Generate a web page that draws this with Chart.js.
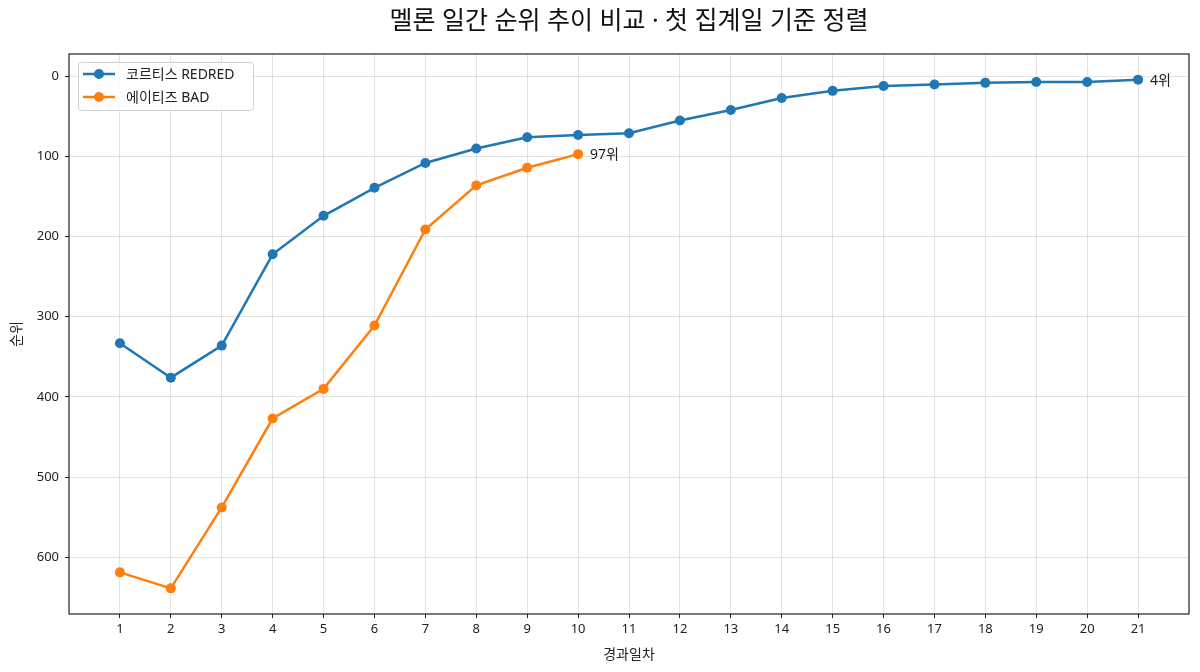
<!DOCTYPE html>
<html>
<head>
<meta charset="utf-8">
<script src="https://cdn.jsdelivr.net/npm/chart.js@4.4.1/dist/chart.umd.min.js"></script>
<style>
    html, body { margin: 0; padding: 0; background: #fff; }
    #wrap { width: 1200px; height: 672px; }
</style>
</head>
<body>
<div id="wrap"><canvas id="rankChart" width="1200" height="672"></canvas></div>
<script>
// data
const days = [1, 2, 3, 4, 5, 6, 7, 8, 9, 10, 11, 12, 13, 14, 15, 16, 17, 18, 19, 20, 21];
const redredRanks = [333, 376, 336, 222, 174, 139, 108, 90, 76, 73, 71, 55, 42, 27, 18, 12, 10, 8, 7, 7, 4];
const badRanks = [619, 639, 538, 427, 390, 311, 191, 136, 114, 97];
const seriesNames = ["코르티스 REDRED", "에이티즈 BAD"];
const yTickValues = [0, 100, 200, 300, 400, 500, 600];

const FONT = "'Noto Sans', 'Noto Sans CJK KR', sans-serif";
const BLUE = "#1f77b4";
const ORANGE = "#ff7f0e";
const GRID = "rgba(176,176,176,0.35)";

function toPoints(values) {
    return values.map((v, i) => ({ x: days[i], y: v }));
}

// frame on all four sides, legend inside the plot, end labels
const extrasPlugin = {
    id: "extras",
    afterDraw(chart) {
        const ctx = chart.ctx;
        const a = chart.chartArea;
        ctx.save();

        // last-point labels
        ctx.font = "14px " + FONT;
        ctx.fillStyle = "#222";
        ctx.textBaseline = "middle";
        ctx.textAlign = "left";
        chart.data.datasets.forEach((ds, i) => {
            const meta = chart.getDatasetMeta(i);
            const last = meta.data[meta.data.length - 1];
            const val = ds.data[ds.data.length - 1].y;
            ctx.fillText(val + "위", last.x + 12, last.y + 1);
        });

        // legend box
        const bx = a.left + 9, by = a.top + 8, bw = 175, bh = 48;
        ctx.fillStyle = "rgba(255,255,255,0.85)";
        ctx.strokeStyle = "#d0d0d0";
        ctx.lineWidth = 1;
        ctx.beginPath();
        ctx.roundRect(bx + 0.5, by + 0.5, bw, bh, 3);
        ctx.fill();
        ctx.stroke();
        ctx.font = "14px " + FONT;
        chart.data.datasets.forEach((ds, i) => {
            const ry = by + 12 + i * 23;
            ctx.strokeStyle = ds.borderColor;
            ctx.lineWidth = 2.5;
            ctx.beginPath();
            ctx.moveTo(bx + 5, ry);
            ctx.lineTo(bx + 37, ry);
            ctx.stroke();
            ctx.fillStyle = ds.borderColor;
            ctx.beginPath();
            ctx.arc(bx + 21, ry, 5, 0, Math.PI * 2);
            ctx.fill();
            ctx.fillStyle = "#222";
            ctx.fillText(ds.label, bx + 48, ry + 1);
        });

        // axes frame
        ctx.strokeStyle = "#222";
        ctx.lineWidth = 1.2;
        ctx.strokeRect(a.left, a.top, a.right - a.left, a.bottom - a.top);
        ctx.restore();
    },
};

const ctx = document.getElementById("rankChart").getContext("2d");
const rankChart = new Chart(ctx, {
    type: "line",
    data: {
        datasets: [
            {
                label: seriesNames[0],
                data: toPoints(redredRanks),
                borderColor: BLUE,
                backgroundColor: BLUE,
                borderWidth: 2.5,
                pointRadius: 5,
                pointBorderWidth: 0,
                pointHoverRadius: 5,
                tension: 0,
            },
            {
                label: seriesNames[1],
                data: toPoints(badRanks),
                borderColor: ORANGE,
                backgroundColor: ORANGE,
                borderWidth: 2.5,
                pointRadius: 5,
                pointBorderWidth: 0,
                pointHoverRadius: 5,
                tension: 0,
            },
        ],
    },
    options: {
        responsive: false,
        animation: false,
        layout: { padding: { left: 0, right: 11, top: 0, bottom: 0 } },
        plugins: {
            legend: { display: false },
            tooltip: { enabled: false },
            title: {
                display: true,
                fullSize: false,
                text: "멜론 일간 순위 추이 비교 · 첫 집계일 기준 정렬",
                color: "#111",
                font: { family: FONT, size: 25, weight: "normal", lineHeight: 1.2 },
                padding: { top: 7, bottom: 17 },
            },
        },
        scales: {
            x: {
                type: "linear",
                min: 0,
                max: 22,
                afterBuildTicks: (scale) => {
                    scale.ticks = days.map((d) => ({ value: d }));
                },
                afterFit: (scale) => {
                    scale.height = 58;
                },
                grid: {
                    color: GRID,
                    drawTicks: true,
                    tickLength: 4,
                    tickColor: "#222",
                },
                border: { display: false },
                ticks: {
                    color: "#222",
                    font: { family: FONT, size: 13 },
                    padding: 3,
                    maxRotation: 0,
                },
                title: {
                    display: true,
                    text: "경과일차",
                    color: "#222",
                    font: { family: FONT, size: 14 },
                    padding: { top: 0, bottom: 9 },
                },
            },
            y: {
                type: "linear",
                reverse: true,
                min: -28,
                max: 671,
                afterBuildTicks: (scale) => {
                    scale.ticks = yTickValues.map((v) => ({ value: v }));
                },
                afterFit: (scale) => {
                    scale.width = 69;
                },
                grid: {
                    color: GRID,
                    drawTicks: true,
                    tickLength: 4,
                    tickColor: "#222",
                },
                border: { display: false },
                ticks: {
                    color: "#222",
                    font: { family: FONT, size: 13 },
                    padding: 6,
                },
                title: {
                    display: true,
                    text: "순위",
                    color: "#222",
                    font: { family: FONT, size: 14 },
                    padding: { top: 9, bottom: 0 },
                },
            },
        },
    },
    plugins: [extrasPlugin],
});
</script>
</body>
</html>
